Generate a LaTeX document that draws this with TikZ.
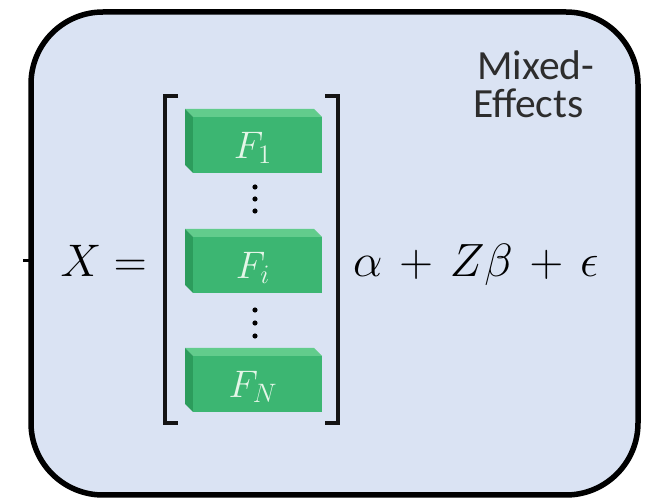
\documentclass[tikz,border=0pt]{standalone}
\usepackage{fontspec}
\newfontfamily\labelfont{Carlito}
\definecolor{bgblue}{RGB}{218,227,243}
\definecolor{frontgreen}{RGB}{60,182,114}
\definecolor{topgreen}{RGB}{98,204,140}
\definecolor{sidegreen}{RGB}{44,156,92}
\definecolor{slabtext}{RGB}{228,246,232}
\definecolor{textgray}{RGB}{45,45,45}
\newcommand\bigmath[2]{\scalebox{#1}{\fontsize{20.74}{24}\selectfont$#2$}}
\newcommand\wplus{\mathbin{\mkern2.5mu+\mkern2.5mu}}
\tikzset{
  frame/.style={line width=5.5pt, draw=black, fill=bgblue, rounded corners=72pt},
  bracket/.style={line width=4pt, draw=black!92},
  slablabel/.style={inner sep=0pt, text=slabtext},
  eqtext/.style={inner sep=0pt, text=black},
  titletext/.style={inner sep=0pt, anchor=base west, text=textgray, font=\labelfont\fontsize{41.5}{44}\selectfont},
  vdot/.style={fill=black}
}
\newcommand\slabbox[4]{% name, x0, y0, label
  \fill[topgreen] (#2,#3) -- (#2+129,#3) -- (#2+137,#3+8) -- (#2+8,#3+8) -- cycle;
  \fill[sidegreen] (#2,#3) -- (#2+8,#3+8) -- (#2+8,#3+64) -- (#2,#3+56) -- cycle;
  \fill[frontgreen] (#2+8,#3+8) rectangle (#2+137,#3+64);
  \node[slablabel] (#1) at (#2+68,#3+39) {\bigmath{1.85}{#4}};
}
\begin{document}
\begin{tikzpicture}[x=1pt,y=-1pt]
\useasboundingbox (0,0) rectangle (654,502);
\draw[frame] (31,12) rectangle (638,495);
\draw[line width=3pt] (23,261) -- (29,261);
% brackets
\draw[bracket] (178,96) -- (165,96) -- (165,423) -- (178,423);
\draw[bracket] (325,96) -- (338,96) -- (338,423) -- (325,423);
% slabs
\slabbox{f1}{185}{109}{F_1}
\slabbox{fi}{185}{229}{F_i}
\slabbox{fn}{185}{348}{F_N}
% dots
\foreach \yy in {187,199,211,310,323,336}
  \fill[vdot] (255,\yy) circle (2.6);
% equation
\node[eqtext, anchor=base east] (lhs) at (147,277) {\bigmath{2.2}{X =}};
\node[eqtext, anchor=base west] (rhs) at (353,277) {\bigmath{2.25}{\alpha \wplus Z\beta \wplus \epsilon}};
% title
\node[titletext] (t1) at (477,80) {Mixed-};
\node[titletext] (t2) at (473,118) {Effects};
\end{tikzpicture}
\end{document}
